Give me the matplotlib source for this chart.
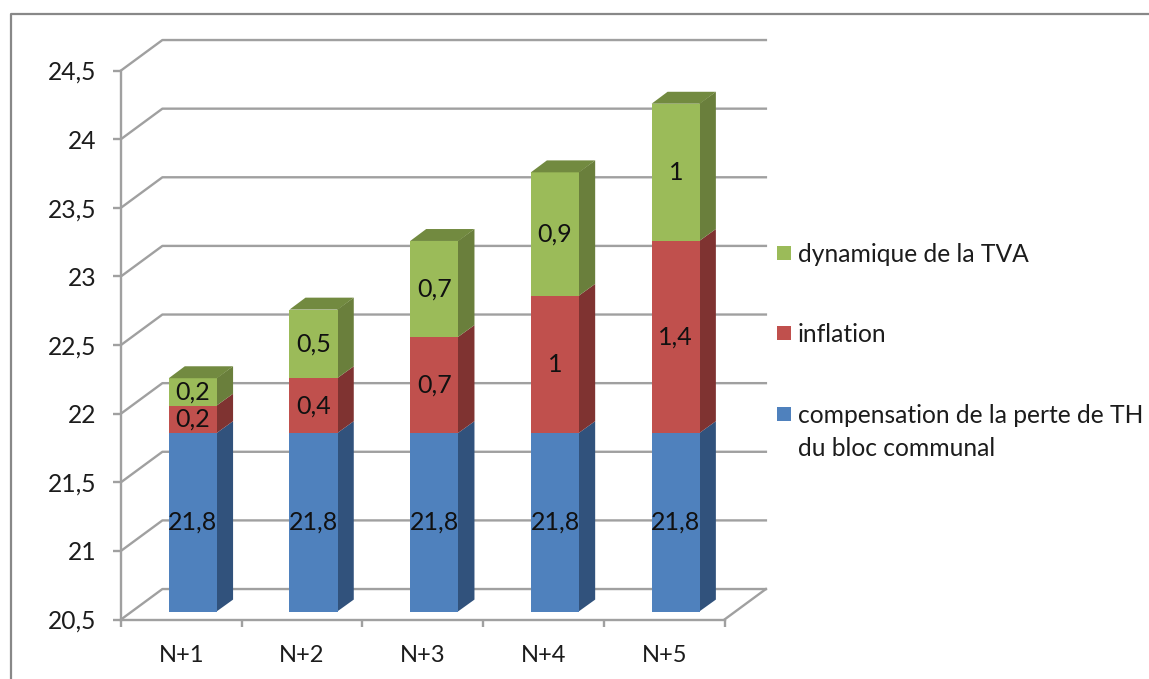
import matplotlib
matplotlib.use("Agg")
import numpy as np
import matplotlib.pyplot as plt
from matplotlib.lines import Line2D
from matplotlib.patches import Polygon, Rectangle

plt.rcParams['font.family'] = ['Lato', 'DejaVu Sans']

categories = ["N+1", "N+2", "N+3", "N+4", "N+5"]
compensation = [21.8, 21.8, 21.8, 21.8, 21.8]
inflation = [0.2, 0.4, 0.7, 1.0, 1.4]
dynamique = [0.2, 0.5, 0.7, 0.9, 1.0]
labels_comp = ["21,8", "21,8", "21,8", "21,8", "21,8"]
labels_infl = ["0,2", "0,4", "0,7", "1", "1,4"]
labels_dyn = ["0,2", "0,5", "0,7", "0,9", "1"]
yticks = [20.5, 21, 21.5, 22, 22.5, 23, 23.5, 24, 24.5]
yticklabels = ["20,5", "21", "21,5", "22", "22,5", "23", "23,5", "24", "24,5"]
legend_names = ["dynamique de la TVA", "inflation",
                "compensation de la perte de TH\ndu bloc communal"]

W, H = 1149, 679
GRID = "#a0a0a0"
TXT = "#1c1c1c"

# pseudo 3d offsets, in data units
wall_dx, wall_dy = 0.343, 0.222
bar_dx, bar_dy = 0.1325, 0.087
shift_x, shift_y = 0.096, 0.058
bar_w = 0.40

fig = plt.figure(figsize=(W / 100, H / 100), dpi=100)
fig.patch.set_facecolor("white")
ax = fig.add_axes([121 / W, (H - 619.5) / H, 603.5 / W, 549 / H])
ax.set_xlim(0, 5)
ax.set_ylim(20.5, 24.5)
ax.patch.set_visible(False)

for s in ["top", "right"]:
    ax.spines[s].set_visible(False)
for s in ["left", "bottom"]:
    ax.spines[s].set_color(GRID)
    ax.spines[s].set_linewidth(1.7)

ax.set_yticks(yticks)
ax.set_yticklabels(yticklabels, fontsize=17.7, color=TXT)
ax.tick_params(axis="y", length=6, width=1.7, color=GRID, pad=11.5)
ax.set_xticks(range(6))
ax.set_xticklabels([])
ax.tick_params(axis="x", which="major", length=5, width=1.7, color=GRID)
ax.set_xticks(np.arange(5) + 0.5, minor=True)
ax.set_xticklabels(categories, minor=True, fontsize=17, color=TXT)
ax.tick_params(axis="x", which="minor", length=0, pad=18)

# walls
for v in yticks:
    ax.plot([0, wall_dx, 5 + wall_dx], [v, v + wall_dy, v + wall_dy],
            color=GRID, lw=1.7, clip_on=False, zorder=1)
ax.plot([5, 5 + wall_dx], [20.5, 20.5 + wall_dy], color=GRID, lw=1.7,
        clip_on=False, zorder=1)

series = [
    (compensation, labels_comp, "#4f81bd", "#31527c", "#3e6797"),
    (inflation, labels_infl, "#c0504d", "#7f3331", "#99403d"),
    (dynamique, labels_dyn, "#9bbb59", "#6a7f3c", "#728a40"),
]

xs = np.arange(5) + 0.5 + shift_x
base = np.full(5, 20.5)
for k, (vals, labs, front, side, top) in enumerate(series):
    vals = np.array(vals)
    tops = vals if k == 0 else base + vals
    ax.bar(xs, tops - base, bar_w, bottom=base + shift_y, color=front,
           zorder=3, clip_on=False)
    for i in range(5):
        xr = xs[i] + bar_w / 2
        lo = base[i] + shift_y
        hi = tops[i] + shift_y
        # side face sits under the front face so no seam shows between them
        ax.add_patch(Polygon([(xr - 0.005, lo), (xr + bar_dx, lo + bar_dy),
                              (xr + bar_dx, hi + bar_dy), (xr - 0.005, hi)],
                             closed=True, fc=side, ec="none", zorder=2.5,
                             clip_on=False))
        if k == len(series) - 1:
            xl = xs[i] - bar_w / 2
            ax.add_patch(Polygon([(xl, hi), (xr, hi), (xr + bar_dx, hi + bar_dy),
                                  (xl + bar_dx, hi + bar_dy)],
                                 closed=True, fc=top, ec="none", zorder=3,
                                 clip_on=False))
        ax.text(xs[i], (lo + hi) / 2, labs[i], ha="center", va="center",
                fontsize=18, color="#111111", zorder=5)
    base = tops

# outer frame of the picture
fig.add_artist(Line2D([10.5 / W, 10.5 / W, 1], [0, (H - 13.5) / H, (H - 13.5) / H],
                      color="#888888", lw=1.6))

# legend
leg_y = [253, 333, 414]
for name, c, y in zip(legend_names, ["#9bbb59", "#c0504d", "#4f81bd"], leg_y):
    fig.add_artist(Rectangle((777 / W, (H - y - 7) / H), 14 / W, 14 / H,
                             fc=c, ec="none", transform=fig.transFigure))
    fig.text(798 / W, (H - y + 10) / H, name, fontsize=17.7, color=TXT,
             ha="left", va="top", linespacing=1.54)

fig.savefig("out.png", dpi=100)
